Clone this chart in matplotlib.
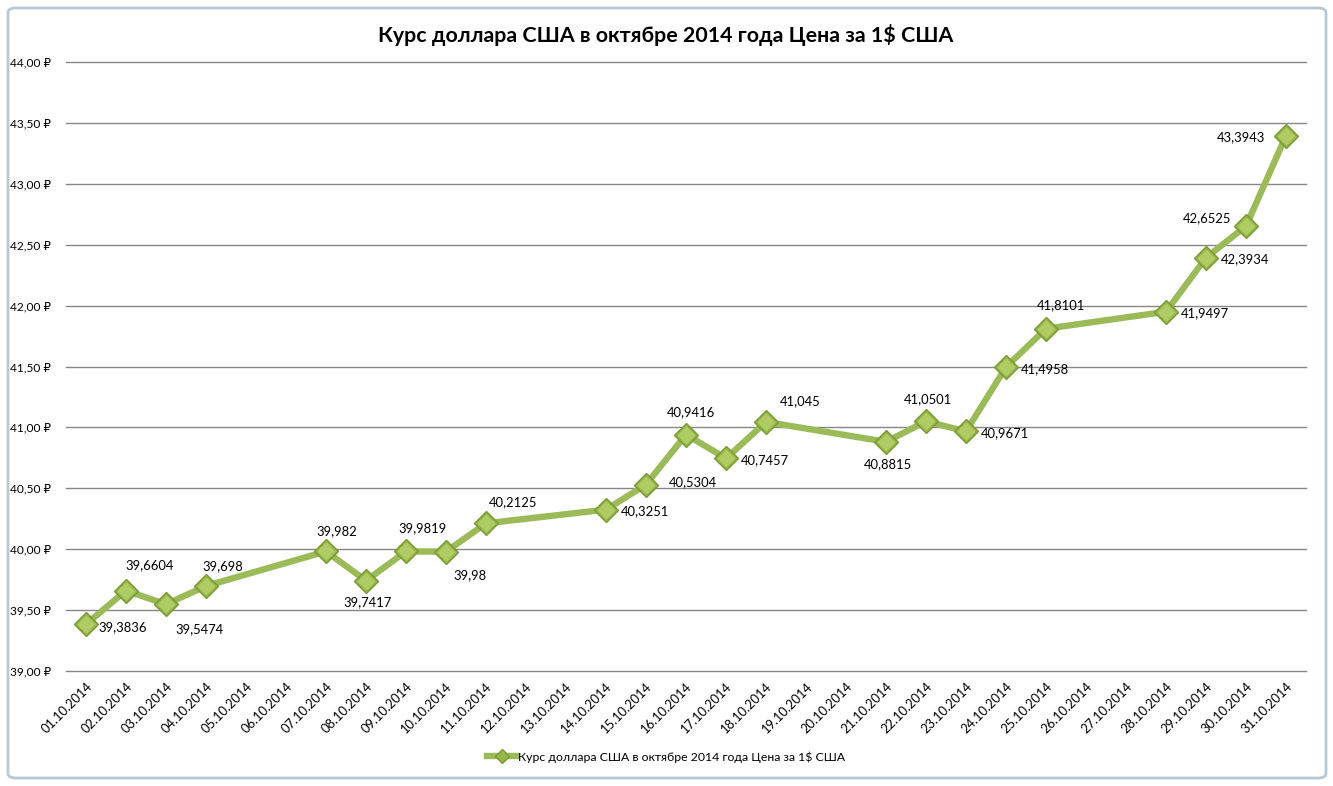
import matplotlib
matplotlib.use("Agg")
import matplotlib.pyplot as plt
from matplotlib.patches import FancyBboxPatch
from matplotlib.lines import Line2D

plt.rcParams['font.family'] = ['Lato', 'DejaVu Sans']

# ---- data ----
all_dates = ["%02d.10.2014" % d for d in range(1, 32)]
point_days = [1, 2, 3, 4, 7, 8, 9, 10, 11, 14, 15, 16, 17, 18, 21, 22, 23, 24, 25, 28, 29, 30, 31]
rates = [39.3836, 39.6604, 39.5474, 39.698, 39.982, 39.7417, 39.9819, 39.98, 40.2125,
         40.3251, 40.5304, 40.9416, 40.7457, 41.045, 40.8815, 41.0501, 40.9671, 41.4958,
         41.8101, 41.9497, 42.3934, 42.6525, 43.3943]
rate_labels = ["39,3836", "39,6604", "39,5474", "39,698", "39,982", "39,7417", "39,9819", "39,98",
               "40,2125", "40,3251", "40,5304", "40,9416", "40,7457", "41,045", "40,8815", "41,0501",
               "40,9671", "41,4958", "41,8101", "41,9497", "42,3934", "42,6525", "43,3943"]
y_ticks = [39.0, 39.5, 40.0, 40.5, 41.0, 41.5, 42.0, 42.5, 43.0, 43.5, 44.0]
y_tick_labels = ["39,00 ₽", "39,50 ₽", "40,00 ₽", "40,50 ₽", "41,00 ₽", "41,50 ₽",
                 "42,00 ₽", "42,50 ₽", "43,00 ₽", "43,50 ₽", "44,00 ₽"]
title = "Курс доллара США в октябре 2014 года Цена за 1$ США"

# label offsets in pixels (dx right, dy down) – styling
label_offsets = [(37, 3), (24, -25), (33, 25), (17, -20), (11, -20), (2, 21), (17, -23), (24, 24),
                 (27, -21), (39, 2), (47, -2), (5, -22), (39, 2), (34, -21), (2, 22), (2, -22),
                 (39, 2), (39, 2), (15, -24), (39, 1), (39, 1), (-39, -8), (-45, 1)]

W, H = 1333, 786
fig = plt.figure(figsize=(W / 100, H / 100), dpi=100)
fig.patch.set_facecolor('white')

# outer chart border
border = FancyBboxPatch((8 / W, 8 / H), (1326 - 8) / W, (778 - 8) / H,
                        boxstyle="round,pad=0,rounding_size=0.006", transform=fig.transFigure,
                        facecolor='white', edgecolor='#b7c8d6', linewidth=2.0, zorder=-10)
fig.patches.append(border)

ax = fig.add_axes([66 / W, 1 - 671 / H, (1306 - 66) / W, (671 - 62) / H])
ax.set_facecolor('none')
ax.set_zorder(1)

for yt in y_ticks:
    ax.axhline(yt, color='#868686', linewidth=1.0, zorder=1, clip_on=False)

xs = [d - 1 for d in point_days]
ax.plot(xs, rates, color='#9bbb59', linewidth=4.6, solid_joinstyle='round', zorder=3)
ax.plot(xs, rates, linestyle='none', marker='D', markersize=12.5, markerfacecolor='#94b548',
        markeredgecolor='#7a9a33', markeredgewidth=1.0, zorder=4)
ax.plot(xs, rates, linestyle='none', marker='D', markersize=9, markerfacecolor='#aecb64',
        markeredgecolor='none', zorder=5)

for x, y, lab, (dx, dy) in zip(xs, rates, rate_labels, label_offsets):
    ax.annotate(lab, (x, y), xytext=(dx * 0.72, -dy * 0.72), textcoords='offset points',
                ha='center', va='center', fontsize=9.4, color='black', zorder=6)

ax.set_xlim(-0.5, 30.5)
ax.set_ylim(39.0, 44.0)
ax.set_yticks(y_ticks)
ax.set_yticklabels(y_tick_labels, fontsize=8.6)
ax.set_xticks(range(31))
ax.set_xticklabels(all_dates, rotation=45, ha='right', rotation_mode='anchor', fontsize=9.3)
ax.tick_params(axis='both', length=0)
ax.tick_params(axis='x', pad=7)
ax.tick_params(axis='y', pad=11)
for s in ax.spines.values():
    s.set_visible(False)

fig.text(666 / W, 1 - 35 / H, title, ha='center', va='center', fontsize=15.4, fontweight='bold')

handle = Line2D([], [], color='#9bbb59', linewidth=4.6, marker='D', markersize=7,
                markerfacecolor='#94b548', markeredgecolor='#7a9a33')
fig.legend([handle], [title], loc='center', bbox_to_anchor=(666 / W, 1 - 757 / H),
           frameon=False, fontsize=8.8, handlelength=2.5, handletextpad=0.1)

fig.savefig("out.png", dpi=100)
